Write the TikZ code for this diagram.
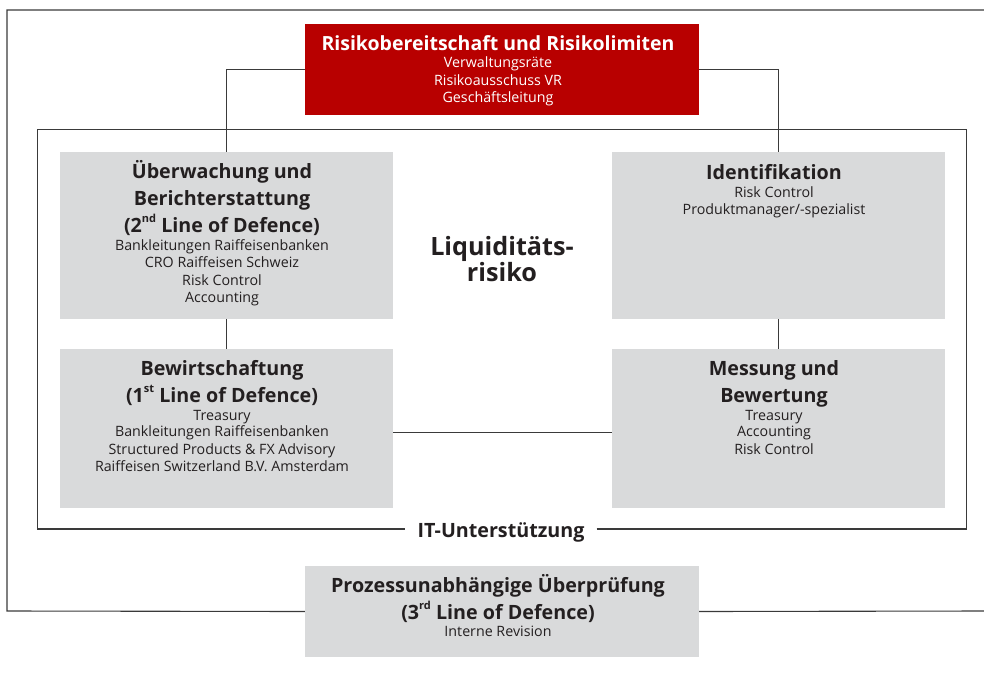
\documentclass[tikz,border=0pt]{standalone}
\usepackage{fontspec}
\setmainfont{Open Sans}
\definecolor{rbred}{HTML}{B80000}
\definecolor{boxgray}{HTML}{D9DADB}
\definecolor{ink}{HTML}{231F20}
\definecolor{linegray}{HTML}{3A3A3A}
\newcommand\mysup[1]{\raisebox{0.5em}{\fontsize{11}{11}\selectfont #1}}
\begin{document}
\begin{tikzpicture}[x=1pt,y=-1pt,
  box/.style={draw=none,inner sep=0pt},
  hd/.style={font=\fontsize{19.7}{23}\selectfont\bfseries,text=ink,anchor=base,inner sep=0pt},
  bd/.style={font=\fontsize{14.25}{17}\selectfont,text=ink,anchor=base,inner sep=0pt},
  rt/.style={font=\fontsize{19.5}{22}\selectfont\bfseries,text=white,anchor=base,inner sep=0pt},
  rb/.style={font=\fontsize{14.25}{17}\selectfont,text=white,anchor=base,inner sep=0pt},
  big/.style={font=\fontsize{25.2}{28}\selectfont\bfseries,text=ink,anchor=base,inner sep=0pt},
  frame/.style={draw=linegray,line width=1.1pt},
  conn/.style={draw=linegray,line width=1pt}]
\useasboundingbox (0,0) rectangle (984,677);

% frames
\coordinate (otl) at (7,10);
\coordinate (otr) at (985,10);
\coordinate (obl) at (7,611);
\coordinate (obr) at (985,611);
\coordinate (itl) at (37.5,129.7);
\coordinate (itr) at (966.3,129.7);
\coordinate (ibl) at (37.5,529);
\coordinate (ibr) at (966.3,529);

\node[hd,inner xsep=12pt] (it) at (501,537.7) {IT-Unterstützung};

% boxes (shapes only, filled below)
\node[box,minimum width=394pt,minimum height=91pt] (red) at (502,69.5) {};
\node[box,minimum width=333pt,minimum height=167pt] (ul) at (226.5,235.5) {};
\node[box,minimum width=333pt,minimum height=167pt] (ur) at (778.5,235.5) {};
\node[box,minimum width=333pt,minimum height=159pt] (ll) at (226.5,428.5) {};
\node[box,minimum width=333pt,minimum height=159pt] (lr) at (778.5,428.5) {};
\node[box,minimum width=394pt,minimum height=91pt] (bot) at (502,611.5) {};

% frame lines
\draw[frame] (otr) -- (otl) -- (obl) -- (bot.west);
\draw[frame] (bot.east) -- (obr);
\draw[frame] (it.east |- ibr) -- (ibr) -- (itr) -- (itl) -- (ibl) -- (it.west |- ibl);

% connectors
\draw[conn] (red.west) -| (ul.north);
\draw[conn] (red.east) -| (ur.north);
\draw[conn] (ul.south) -- (ll.north);
\draw[conn] (ur.south) -- (lr.north);
\draw[conn] ([yshift=-4pt]ll.east) -- ([yshift=-4pt]lr.west);

% box fills on top of lines
\fill[rbred] (red.north west) rectangle (red.south east);
\fill[boxgray] (ul.north west) rectangle (ul.south east);
\fill[boxgray] (ur.north west) rectangle (ur.south east);
\fill[boxgray] (ll.north west) rectangle (ll.south east);
\fill[boxgray] (lr.north west) rectangle (lr.south east);
\fill[boxgray] (bot.north west) rectangle (bot.south east);

% red box text
\node[rt] (r1) at (498,51) {Risikobereitschaft und Risikolimiten};
\node[rb] (r2) at (498,67.7) {Verwaltungsräte};
\node[rb] (r3) at (498,85.7) {Risikoausschuss VR};
\node[rb] (r4) at (498,102.7) {Geschäftsleitung};

% upper left
\node[hd] (a1) at (222,178.3) {Überwachung und};
\node[hd] (a2) at (222,205.7) {Berichterstattung};
\node[hd] (a3) at (222,232.3) {(2\mysup{nd} Line of Defence)};
\node[bd] (a4) at (222,250) {Bankleitungen Raiffeisenbanken};
\node[bd] (a5) at (222,267.3) {CRO Raiffeisen Schweiz};
\node[bd] (a6) at (222,285) {Risk Control};
\node[bd] (a7) at (222,302) {Accounting};

% upper right
\node[hd] (b1) at (774,179) {Identifikation};
\node[bd] (b2) at (774,197.3) {Risk Control};
\node[bd] (b3) at (774,214) {Produktmanager/-spezialist};

% lower left
\node[hd] (c1) at (222,375.7) {Bewirtschaftung};
\node[hd] (c2) at (222,402.7) {(1\mysup{st} Line of Defence)};
\node[bd] (c3) at (222,420) {Treasury};
\node[bd] (c4) at (222,436.7) {Bankleitungen Raiffeisenbanken};
\node[bd] (c5) at (222,454.3) {Structured Products \& FX Advisory};
\node[bd] (c6) at (222,471.7) {Raiffeisen Switzerland B.V. Amsterdam};

% lower right
\node[hd] (d1) at (774,375.7) {Messung und};
\node[hd] (d2) at (774,402.7) {Bewertung};
\node[bd] (d3) at (774,420) {Treasury};
\node[bd] (d4) at (774,436.7) {Accounting};
\node[bd] (d5) at (774,454.3) {Risk Control};

% bottom
\node[hd] (e1) at (498,592.3) {Prozessunabhängige Überprüfung};
\node[hd] (e2) at (498,619.3) {(3\mysup{rd} Line of Defence)};
\node[bd] (e3) at (498,636.7) {Interne Revision};

% centre
\node[big] (l1) at (502,255) {Liquiditäts-};
\node[big] (l2) at (502,281.7) {risiko};
\end{tikzpicture}
\end{document}
